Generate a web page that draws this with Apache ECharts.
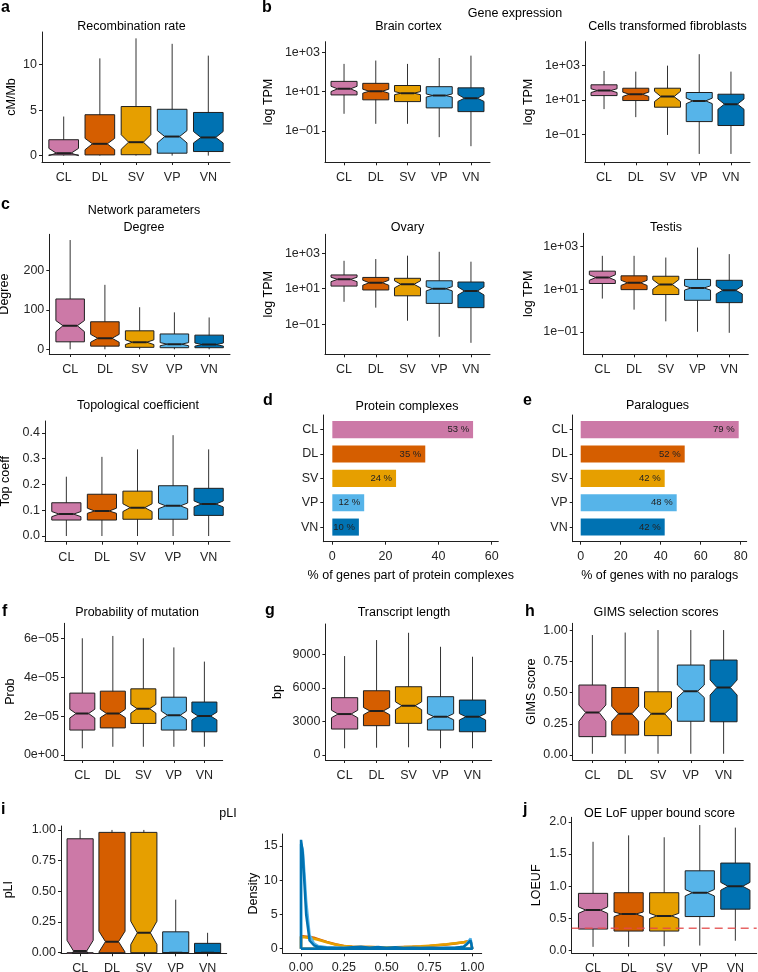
<!DOCTYPE html>
<html>
<head>
<meta charset="utf-8">
<script src="https://cdn.jsdelivr.net/npm/echarts@6/dist/echarts.min.js"></script>
<style>
  html, body { margin: 0; padding: 0; background: #fff; }
  #chart { width: 758px; height: 972px; }
</style>
</head>
<body>
<div id="chart"></div>
<script>
var groups = ['CL', 'DL', 'SV', 'VP', 'VN']
var colors = ['#CC79A7', '#D55E00', '#E69F00', '#56B4E9', '#0072B2']

// box rows: [low whisker, q1, median, q3, high whisker, notch low, notch high]
var recombRate = [
  [0, 0.08, 0.27, 1.75, 4.3, 0, 0.8],
  [0, 0.08, 1.3, 4.5, 10.7, 0.65, 1.9],
  [0, 0.1, 1.48, 5.4, 12.9, 0.7, 2.3],
  [0, 0.27, 2.1, 5.1, 12.3, 1.4, 2.75],
  [0, 0.45, 2.0, 4.75, 11.0, 1.4, 2.65]
]
// expression panels in log10 TPM
var brainCortex = [
  [-0.13, 0.83, 1.14, 1.52, 2.41, 1.0, 1.27],
  [-0.64, 0.58, 1.02, 1.42, 2.58, 0.92, 1.12],
  [-0.64, 0.49, 0.92, 1.31, 2.41, 0.84, 1.0],
  [-1.32, 0.17, 0.80, 1.25, 2.71, 0.72, 0.88],
  [-1.78, -0.02, 0.66, 1.19, 2.83, 0.5, 0.85]
]
var fibroblasts = [
  [0.46, 1.25, 1.54, 1.88, 2.69, 1.43, 1.65],
  [-0.01, 0.96, 1.33, 1.68, 2.65, 1.2, 1.45],
  [-1.05, 0.57, 1.19, 1.68, 3.0, 0.9, 1.5],
  [-2.16, -0.27, 0.94, 1.43, 3.67, 0.78, 1.1],
  [-2.16, -0.50, 0.75, 1.33, 2.65, 0.45, 1.05]
]
var ovary = [
  [0.26, 1.15, 1.53, 1.78, 2.58, 1.4, 1.65],
  [-0.07, 0.93, 1.34, 1.64, 2.68, 1.2, 1.48],
  [-0.81, 0.60, 1.25, 1.59, 2.87, 1.05, 1.45],
  [-1.72, 0.17, 1.0, 1.45, 3.09, 0.88, 1.12],
  [-2.06, -0.07, 0.87, 1.38, 2.53, 0.65, 1.1]
]
var testis = [
  [0.56, 1.27, 1.55, 1.85, 2.57, 1.42, 1.68],
  [0.04, 0.98, 1.30, 1.63, 2.57, 1.18, 1.42],
  [-0.51, 0.75, 1.22, 1.61, 2.49, 1.0, 1.45],
  [-1.0, 0.48, 1.06, 1.46, 2.96, 0.96, 1.16],
  [-1.05, 0.37, 0.95, 1.42, 2.65, 0.78, 1.15]
]
var degree = [
  [0, 19, 60, 128, 278, 45, 73],
  [0, 8, 28, 70, 164, 18, 38],
  [0, 5, 18, 47, 107, 12, 24],
  [0, 4, 13, 39, 94, 9, 17],
  [0, 4, 12, 36, 81, 8, 16]
]
var topCoeff = [
  [0, 0.062, 0.085, 0.129, 0.23, 0.075, 0.095],
  [0, 0.062, 0.097, 0.162, 0.307, 0.088, 0.108],
  [0, 0.065, 0.11, 0.174, 0.336, 0.095, 0.125],
  [0, 0.065, 0.117, 0.195, 0.391, 0.106, 0.128],
  [0, 0.080, 0.124, 0.185, 0.336, 0.113, 0.136]
]
var proteinComplexes = [53, 35, 24, 12, 10]
var noParalogs = [79, 52, 42, 48, 42]
var mutationProb = [
  [0.34e-5, 1.28e-5, 2.13e-5, 3.18e-5, 6.0e-5, 1.9e-5, 2.35e-5],
  [0.42e-5, 1.39e-5, 2.13e-5, 3.28e-5, 6.12e-5, 1.92e-5, 2.35e-5],
  [0.42e-5, 1.62e-5, 2.38e-5, 3.40e-5, 6.0e-5, 2.15e-5, 2.6e-5],
  [0.42e-5, 1.28e-5, 2.04e-5, 2.97e-5, 5.53e-5, 1.83e-5, 2.25e-5],
  [0.42e-5, 1.19e-5, 2.0e-5, 2.72e-5, 4.8e-5, 1.8e-5, 2.2e-5]
]
var transcriptLength = [
  [600, 2320, 3660, 5120, 8840, 3330, 4000],
  [650, 2620, 3930, 5740, 10270, 3600, 4250],
  [690, 2830, 4400, 6100, 10920, 4050, 4750],
  [600, 2230, 3420, 5210, 9670, 3150, 3700],
  [600, 2080, 3420, 4910, 8780, 3130, 3700]
]
var gimsScore = [
  [0.01, 0.147, 0.34, 0.56, 0.96, 0.27, 0.40],
  [0.01, 0.16, 0.33, 0.54, 0.98, 0.27, 0.39],
  [0.01, 0.155, 0.33, 0.506, 1.0, 0.27, 0.38],
  [0.01, 0.27, 0.51, 0.72, 1.0, 0.46, 0.56],
  [0.01, 0.266, 0.54, 0.76, 1.0, 0.48, 0.60]
]
var pli = [
  [0, 0, 0.013, 0.928, 1.0, -0.08, 0.1],
  [0, 0, 0.09, 0.98, 1.0, 0.005, 0.175],
  [0, 0, 0.162, 0.98, 1.0, 0.067, 0.256],
  [0, 0, 0, 0.17, 0.432, 0, 0],
  [0, 0, 0, 0.076, 0.162, 0, 0]
]
var loeuf = [
  [0.06, 0.336, 0.63, 0.89, 1.69, 0.58, 0.68],
  [0.06, 0.305, 0.57, 0.90, 1.79, 0.53, 0.60],
  [0.07, 0.305, 0.54, 0.90, 1.76, 0.50, 0.58],
  [0.08, 0.53, 0.90, 1.24, 1.95, 0.85, 0.95],
  [0.155, 0.645, 1.0, 1.36, 1.91, 0.94, 1.06]
]
var loeufCutoff = 0.35

// pLI density outlines (closed like geom_density)
var densX = [0, 0, 0.01, 0.02, 0.03, 0.05, 0.075, 0.1, 0.15, 0.2, 0.25, 0.3, 0.35, 0.4, 0.45, 0.5,
  0.55, 0.6, 0.65, 0.7, 0.75, 0.8, 0.85, 0.9, 0.95, 0.97, 0.99, 1, 1, 0]
var densDL = [0, 1.85, 1.85, 1.8, 1.75, 1.7, 1.6, 1.4, 1.0, 0.65, 0.4, 0.3, 0.25, 0.25, 0.22, 0.22,
  0.22, 0.25, 0.28, 0.32, 0.4, 0.5, 0.6, 0.75, 0.95, 1.05, 1.15, 1.2, 0, 0]
var densSV = [0, 1.7, 1.7, 1.68, 1.65, 1.55, 1.45, 1.3, 0.95, 0.6, 0.38, 0.3, 0.25, 0.25, 0.22, 0.22,
  0.22, 0.25, 0.3, 0.35, 0.45, 0.55, 0.65, 0.8, 0.95, 1.0, 1.05, 1.1, 0, 0]
var densVP = [0, 15.3, 14.5, 11, 7, 2.0, 0.8, 0.4, 0.2, 0.15, 0.15, 0.1, 0.15, 0.1, 0.1, 0.15,
  0.1, 0.1, 0.1, 0.1, 0.1, 0.1, 0.1, 0.15, 0.3, 0.8, 1.5, 1.7, 0, 0]
var densVN = [0, 15.9, 14, 9.5, 5, 1.2, 0.5, 0.25, 0.15, 0.15, 0.1, 0.2, 0.3, 0.15, 0.25, 0.1,
  0.2, 0.1, 0.15, 0.1, 0.15, 0.1, 0.15, 0.15, 0.3, 0.7, 1.2, 1.3, 0, 0]

var font = 'Liberation Sans, Arial, Helvetica, sans-serif'
var ink = '#1f1f1f'
var labelInk = '#262626'
var fs = 12.5

function logLabel (v) { return '1e' + (v < 0 ? '\u2212' : '+') + ('0' + Math.abs(v)).slice(-2) }
function sciLabel (v) { return v === 0 ? '0e+00' : Math.round(v * 1e5) + 'e\u221205' }
function fixed (n) { return function (v) { return v.toFixed(n) } }
function plain (v) { return String(v) }
function groupLabel (v) { return groups[Math.round(v)] }

var grids = []
var xAxes = []
var yAxes = []
var series = []

function axis (k, min, max, ticks, fmt) {
  return {
    type: 'value',
    gridIndex: k,
    min: min,
    max: max,
    axisLine: { show: true, onZero: false, lineStyle: { color: ink, width: 1 } },
    axisTick: { show: true, length: 3, customValues: ticks, lineStyle: { color: ink, width: 1 } },
    axisLabel: { show: true, customValues: ticks, formatter: fmt, color: labelInk, fontSize: fs, fontFamily: font, margin: 5 },
    splitLine: { show: false }
  }
}

function withName (ax, name, gap) {
  ax.name = name
  ax.nameLocation = 'middle'
  ax.nameGap = gap
  ax.nameTextStyle = { color: '#000', fontSize: fs, fontFamily: font }
  return ax
}

function addGrid (l, t, r, b) {
  grids.push({ left: l, top: t, width: r - l, height: b - t, containLabel: false, outerBoundsMode: 'none' })
  return grids.length - 1
}

function renderBox (params, api) {
  var i = api.value(0)
  var x = api.coord([i, 0])[0]
  var half = api.size([0.82, 0])[0] / 2
  var ind = half / 2
  function y (d) { return api.coord([i, api.value(d)])[1] }
  var lo = y(1), q1 = y(2), md = y(3), q3 = y(4), hi = y(5), nlo = y(6), nhi = y(7)
  var L = x - half
  var R = x + half
  return {
    type: 'group',
    children: [
      { type: 'line', shape: { x1: x, y1: hi, x2: x, y2: lo }, style: { stroke: '#333', lineWidth: 1 } },
      {
        type: 'polygon',
        shape: { points: [[L, q3], [L, nhi], [L + ind, md], [L, nlo], [L, q1], [R, q1], [R, nlo], [R - ind, md], [R, nhi], [R, q3]] },
        style: { fill: colors[i], stroke: '#1f1f1f', lineWidth: 1 }
      },
      { type: 'line', shape: { x1: L + ind, y1: md, x2: R - ind, y2: md }, style: { stroke: '#1f1f1f', lineWidth: 2 } }
    ]
  }
}

function renderBar (params, api) {
  var v = api.value(0)
  var i = api.value(1)
  var p0 = api.coord([0, i])
  var p1 = api.coord([v, i])
  var h = Math.abs(api.size([0, 0.7])[1])
  return {
    type: 'group',
    children: [
      { type: 'rect', shape: { x: p0[0], y: p0[1] - h / 2, width: p1[0] - p0[0], height: h }, style: { fill: colors[i] } },
      {
        type: 'text', x: p1[0] - 4, y: p1[1],
        style: { text: v + ' %', align: 'right', verticalAlign: 'middle', fontSize: 9.5, fontFamily: font, fill: '#222' }
      }
    ]
  }
}

function boxPanel (rect, rows, yMin, yMax, yTicks, yFmt, yName, nameGap) {
  var k = addGrid(rect[0], rect[1], rect[2], rect[3])
  xAxes.push(axis(k, -0.6, 4.6, [0, 1, 2, 3, 4], groupLabel))
  xAxes[k].axisLabel.margin = 9
  yAxes.push(withName(axis(k, yMin, yMax, yTicks, yFmt), yName, nameGap))
  series.push({
    type: 'custom',
    xAxisIndex: k,
    yAxisIndex: k,
    clip: true,
    renderItem: renderBox,
    encode: { x: 0, y: [1, 2, 3, 4, 5] },
    data: rows.map(function (r, i) { return [i].concat(r) })
  })
  return k
}

function barPanel (rect, values, xMin, xMax, xTicks, xName) {
  var k = addGrid(rect[0], rect[1], rect[2], rect[3])
  var xa = withName(axis(k, xMin, xMax, xTicks, plain), xName, 27)
  xa.axisLabel.margin = 8
  xAxes.push(xa)
  var ya = axis(k, -0.6, 4.6, [0, 1, 2, 3, 4], groupLabel)
  ya.inverse = true
  yAxes.push(ya)
  series.push({
    type: 'custom',
    xAxisIndex: k,
    yAxisIndex: k,
    renderItem: renderBar,
    encode: { x: 0, y: 1 },
    data: values.map(function (v, i) { return [v, i] })
  })
  return k
}

// a
boxPanel([42, 32, 230, 162], recombRate, -0.7, 13.6, [0, 5, 10], plain, 'cM/Mb', 24)
// b
boxPanel([325, 41.7, 490, 162.3], brainCortex, -2.6, 3.54, [-1, 1, 3], logLabel, 'log TPM', 50)
boxPanel([585, 41.7, 750, 162.3], fibroblasts, -2.65, 4.4, [-1, 1, 3], logLabel, 'log TPM', 50)
boxPanel([325, 234.3, 490, 354.3], ovary, -2.71, 4.08, [-1, 1, 3], logLabel, 'log TPM', 50)
boxPanel([583.3, 233.3, 748.3, 354.3], testis, -2.06, 3.63, [-1, 1, 3], logLabel, 'log TPM', 48)
// c
boxPanel([49.3, 234.3, 230, 354], degree, -12, 292.6, [0, 100, 200], plain, 'Degree', 38)
boxPanel([45, 421, 230, 541.7], topCoeff, -0.022, 0.446, [0, 0.1, 0.2, 0.3, 0.4], fixed(1), 'Top coeff', 33)
// d, e
barPanel([323.3, 415, 498.3, 541.7], proteinComplexes, -3.4, 62.5, [0, 20, 40, 60], '% of genes part of protein complexes')
barPanel([572.7, 415, 746.7, 541.7], noParalogs, -4, 83, [0, 20, 40, 60, 80], '% of genes with no paralogs')
// f, g, h
boxPanel([64, 623.3, 222.7, 760], mutationProb, -0.26e-5, 6.77e-5, [0, 2e-5, 4e-5, 6e-5], sciLabel, 'Prob', 47)
boxPanel([325.4, 624, 491.7, 760], transcriptLength, -446, 11705, [0, 3000, 6000, 9000], plain, 'bp', 41)
boxPanel([572.7, 623.3, 743.3, 760], gimsScore, -0.04, 1.054, [0, 0.25, 0.5, 0.75, 1], fixed(2), 'GIMS score', 35)
// i
boxPanel([61, 826, 226.7, 953.3], pli, -0.005, 1.032, [0, 0.25, 0.5, 0.75, 1], fixed(2), 'pLI', 46)

var kd = addGrid(282.7, 834, 481.7, 953.3)
var dx = axis(kd, -0.107, 1.055, [0, 0.25, 0.5, 0.75, 1], fixed(2))
dx.axisLabel.margin = 8
xAxes.push(dx)
yAxes.push(withName(axis(kd, -0.67, 16.75, [0, 5, 10, 15], plain), 'Density', 18))
var densSets = [[densDL, 1], [densSV, 2], [densVP, 3], [densVN, 4]]
densSets.forEach(function (s) {
  series.push({
    type: 'line',
    xAxisIndex: kd,
    yAxisIndex: kd,
    showSymbol: false,
    symbol: 'none',
    clip: true,
    lineStyle: { color: colors[s[1]], width: 2.5 },
    data: densX.map(function (x, j) { return [x, s[0][j]] })
  })
})

// j
var kj = boxPanel([571.7, 817.3, 756.7, 953.3], loeuf, -0.04, 2.07, [0, 0.5, 1, 1.5, 2], fixed(1), 'LOEUF', 29)
series.push({
  type: 'line',
  xAxisIndex: kj,
  yAxisIndex: kj,
  symbol: 'none',
  z: 5,
  lineStyle: { color: '#e34a4a', width: 1.5, type: [8, 5], opacity: 0.85 },
  data: [[-0.6, loeufCutoff], [4.6, loeufCutoff]]
})

var titles = [
  ['Recombination rate', 131.5, 27],
  ['Gene expression', 515, 14],
  ['Brain cortex', 408.5, 27],
  ['Cells transformed fibroblasts', 667.5, 27],
  ['Network parameters', 144, 211],
  ['Degree', 144, 228],
  ['Ovary', 407.5, 228],
  ['Testis', 666, 228],
  ['Topological coefficient', 138, 406],
  ['Protein complexes', 407, 407],
  ['Paralogues', 657.5, 406],
  ['Probability of mutation', 137, 613],
  ['Transcript length', 404, 613],
  ['GIMS selection scores', 656, 613],
  ['pLI', 228, 814],
  ['OE LoF upper bound score', 659.5, 814]
]
var letters = [
  ['a', 1, 8], ['b', 262, 8], ['c', 1, 205], ['d', 263, 401], ['e', 523, 401],
  ['f', 2, 612], ['g', 265, 611], ['h', 525, 612], ['i', 1, 810], ['j', 523, 810]
]

var graphics = []
titles.forEach(function (t) {
  graphics.push({
    type: 'text', x: t[1], y: t[2],
    style: { text: t[0], align: 'center', textAlign: 'center', verticalAlign: 'middle', textVerticalAlign: 'middle', fontSize: fs, fontFamily: font, fill: '#000' }
  })
})
letters.forEach(function (t) {
  graphics.push({
    type: 'text', x: t[1], y: t[2],
    style: { text: t[0], align: 'left', textAlign: 'left', verticalAlign: 'middle', textVerticalAlign: 'middle', fontSize: 16, fontWeight: 'bold', fontFamily: font, fill: '#000' }
  })
})

var chart = echarts.init(document.getElementById('chart'), null, { renderer: 'canvas' })
chart.setOption({
  animation: false,
  backgroundColor: '#fff',
  textStyle: { fontFamily: font },
  grid: grids,
  xAxis: xAxes,
  yAxis: yAxes,
  series: series,
  graphic: graphics
})
</script>
</body>
</html>
